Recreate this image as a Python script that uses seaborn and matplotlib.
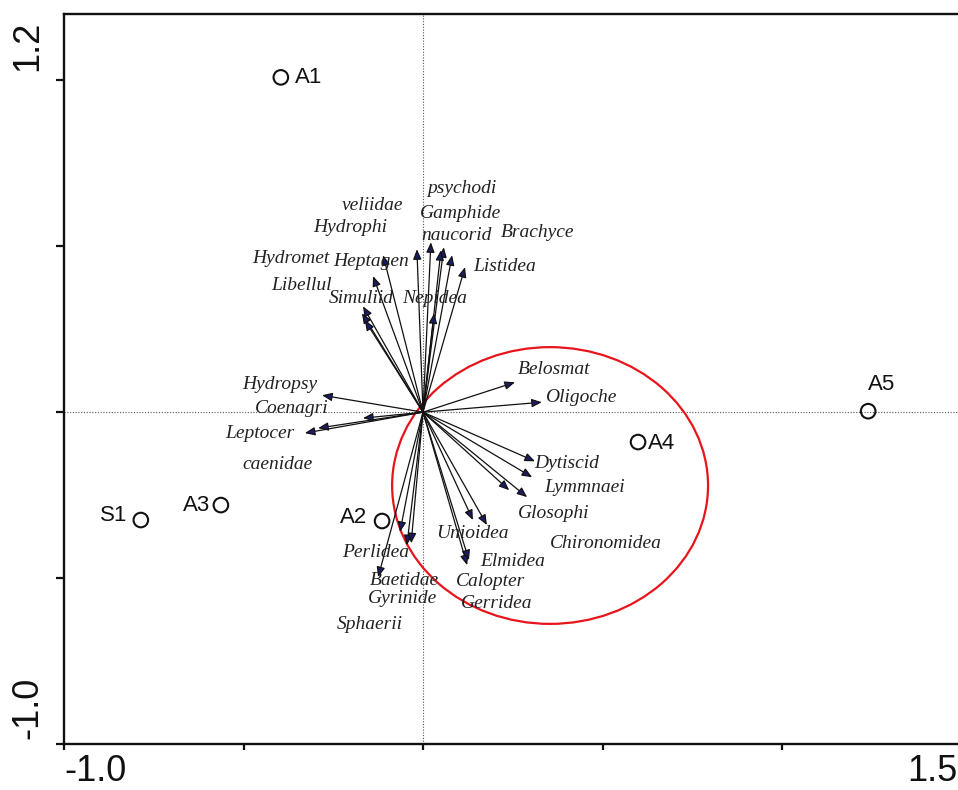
import matplotlib
matplotlib.use("Agg")
import matplotlib.pyplot as plt
from matplotlib.patches import Ellipse
import seaborn as sns
import pandas as pd

# Site scores on the first two ordination axes
site_names = ["A1", "S1", "A3", "A2", "A4", "A5"]
site_x = [-0.396, -0.786, -0.563, -0.114, 0.599, 1.240]
site_y = [1.009, -0.325, -0.280, -0.328, -0.090, 0.003]

# Taxon scores (arrow tips)
taxa = ["psychodi", "Gamphide", "naucorid", "Brachyce", "Listidea", "veliidae",
        "Hydrophi", "Heptagen", "Hydromet", "Libellul", "Simuliid", "Nepidea",
        "Hydropsy", "Coenagri", "Leptocer", "caenidae",
        "Perlidea", "Baetidae", "Gyrinide", "Sphaerii",
        "Belosmat", "Oligoche", "Dytiscid", "Lymmnaei", "Glosophi",
        "Chironomidea", "Unioidea", "Elmidea", "Calopter", "Gerridea"]
taxon_x = [0.022, 0.058, 0.050, 0.081, 0.117, -0.017,
           -0.111, -0.139, -0.167, -0.170, -0.162, 0.031,
           -0.281, -0.167, -0.329, -0.292,
           -0.064, -0.045, -0.033, -0.125,
           0.256, 0.331, 0.312, 0.304, 0.290,
           0.240, 0.139, 0.178, 0.123, 0.128]
taxon_y = [0.512, 0.497, 0.488, 0.473, 0.437, 0.491,
           0.473, 0.410, 0.319, 0.298, 0.277, 0.298,
           0.051, -0.018, -0.063, -0.048,
           -0.361, -0.401, -0.395, -0.497,
           0.090, 0.030, -0.148, -0.196, -0.256,
           -0.235, -0.325, -0.340, -0.461, -0.446]

# Axis end labels
x_tick_text = ["-1.0", "1.5"]
y_tick_text = ["1.2", "-1.0"]

# Label placement (pixel offsets from the arrow tip)
taxon_offsets = {
    "psychodi": (31, 54), "Gamphide": (17, 34), "naucorid": (16, 15),
    "Brachyce": (85, 23), "Listidea": (40, 1), "veliidae": (-44, 44),
    "Hydrophi": (-33, 28), "Heptagen": (-2, 15), "Hydromet": (-72, 48),
    "Libellul": (-60, 28), "Simuliid": (-4, 22), "Nepidea": (0, 15),
    "Hydropsy": (-42, 11), "Coenagri": (-71, 10), "Leptocer": (-45, 0),
    "caenidae": (-41, -36), "Perlidea": (-24, -21), "Baetidae": (-2, -35),
    "Gyrinide": (-9, -55), "Sphaerii": (-8, -47), "Belosmat": (39, 13),
    "Oligoche": (39, 5), "Dytiscid": (32, -2), "Lymmnaei": (52, -10),
    "Glosophi": (27, -16), "Chironomidea": (97, -53), "Unioidea": (0, -13),
    "Elmidea": (26, -37), "Calopter": (23, -16), "Gerridea": (28, -43),
}
site_label_pos = {
    "A1": ((14, 0), "left"), "S1": ((-13, 5), "right"), "A3": ((-11, 0), "right"),
    "A2": ((-15, 4), "right"), "A4": ((10, -1), "left"), "A5": ((13, 27), "center"),
}

sns.set_style("ticks")
plt.rcParams["font.family"] = ["Liberation Sans", "DejaVu Sans"]

W, H = 958, 790
fig = plt.figure(figsize=(W / 100, H / 100), dpi=100)
ax = fig.add_axes([64 / W, 46 / H, 897.5 / W, 730 / H])
ax.set_xlim(-1.0, 1.5)
ax.set_ylim(-1.0, 1.2)

for side in ["left", "bottom", "top"]:
    ax.spines[side].set_linewidth(1.7)
    ax.spines[side].set_color("#111111")
ax.spines["right"].set_visible(False)

ax.set_xticks([-1.0, -0.5, 0.0, 0.5, 1.0])
ax.set_yticks([-1.0, -0.5, 0.0, 0.5, 1.0])
ax.set_xticklabels([])
ax.set_yticklabels([])
ax.tick_params(axis="y", direction="out", length=6, width=1.6, color="#111111")
ax.tick_params(axis="x", direction="out", length=4, width=1.6, color="#111111")

# Zero reference lines
ax.axhline(0, color="#555555", lw=0.8, ls=(0, (1, 1.5)), zorder=1)
ax.axvline(0, color="#555555", lw=0.8, ls=(0, (1, 1.5)), zorder=1)

# Taxon arrows and names
for name, tx, ty in zip(taxa, taxon_x, taxon_y):
    ax.annotate("", xy=(tx, ty), xytext=(0, 0),
                arrowprops=dict(arrowstyle="-|>,head_length=0.6,head_width=0.25",
                                fc="#1c1c64", ec="#111111", lw=0.9,
                                shrinkA=0, shrinkB=0, mutation_scale=10),
                zorder=3)
    dx, dy = taxon_offsets[name]
    ax.annotate(name, xy=(tx, ty), xytext=(dx, dy), textcoords="offset pixels",
                ha="center", va="center", fontsize=14, fontstyle="italic",
                family=["Liberation Serif", "DejaVu Serif"], color="#222222",
                zorder=5)

# Sites
sites = pd.DataFrame({"site": site_names, "x": site_x, "y": site_y})
sns.scatterplot(data=sites, x="x", y="y", ax=ax, marker="o", s=110,
                fc="none", ec="#111111", linewidth=1.5, zorder=4, legend=False)
for name, sx, sy in zip(site_names, site_x, site_y):
    (dx, dy), ha = site_label_pos[name]
    ax.annotate(name, xy=(sx, sy), xytext=(dx, dy), textcoords="offset pixels",
                ha=ha, va="center", fontsize=16, color="#111111", zorder=5)

# Group outline
ax.add_patch(Ellipse((0.354, -0.221), 0.880, 0.834, angle=0, fill=False,
                     ec="#e8141c", lw=1.6, zorder=2))

ax.set_xlabel("")
ax.set_ylabel("")

# End labels of the axes
fig.text(64 / W, 1 - 789 / H, x_tick_text[0], ha="left", va="bottom", fontsize=26, color="#111111")
fig.text(957 / W, 1 - 789 / H, x_tick_text[1], ha="right", va="bottom", fontsize=26, color="#111111")
fig.text(28 / W, 1 - 21 / H, y_tick_text[0], ha="center", va="top", rotation=90, fontsize=26, color="#111111")
fig.text(28 / W, 1 - 739 / H, y_tick_text[1], ha="center", va="bottom", rotation=90, fontsize=26, color="#111111")

fig.savefig("out.png", dpi=100)
